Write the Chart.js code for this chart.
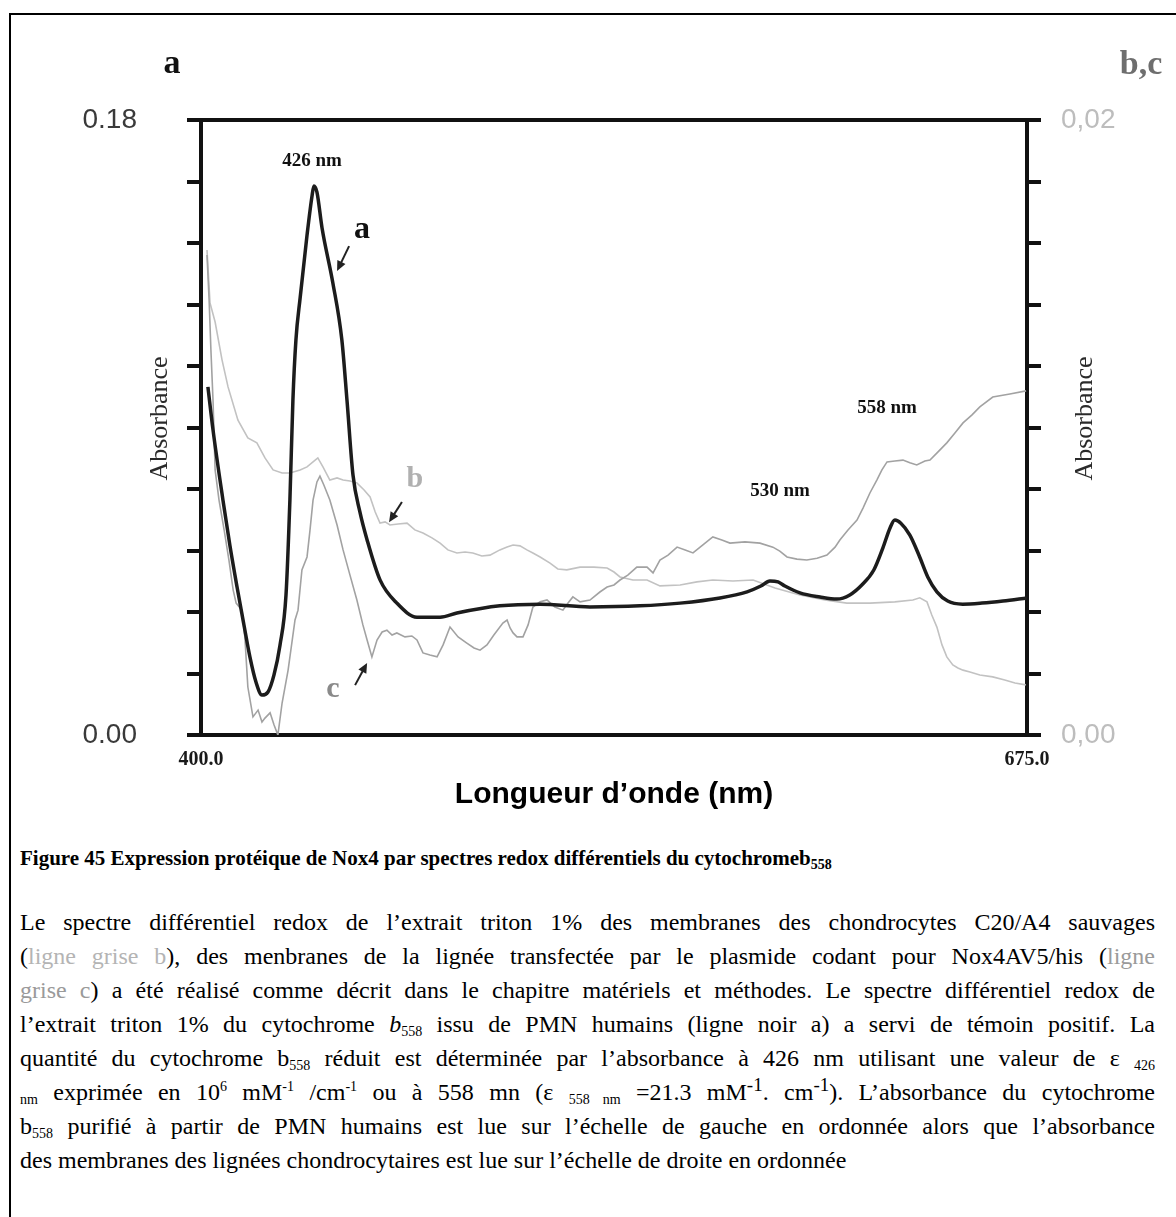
<!DOCTYPE html>
<html><head><meta charset="utf-8">
<script src="https://cdn.jsdelivr.net/npm/chart.js@4.4.1/dist/chart.umd.min.js"></script>
<style>
html,body{margin:0;padding:0;background:#fff;}
body{width:1176px;height:1217px;position:relative;overflow:hidden;font-family:'Liberation Serif','Times New Roman',serif;}
#frame{position:absolute;left:9px;top:13px;width:1300px;height:1400px;border-left:2px solid #000;border-top:2px solid #000;}
#chart{position:absolute;left:0;top:0;}
.cap{position:absolute;left:20px;width:1135px;font-size:24px;line-height:34px;color:#000;white-space:nowrap;}
.j{text-align:justify;text-align-last:justify;white-space:normal;}
.title{font-weight:bold;font-size:21px;line-height:30px;}
sub{font-size:14px;line-height:0;vertical-align:-4px;}
sup{font-size:14px;line-height:0;vertical-align:9px;}
sup.big{font-size:19px;}
.gb{color:#b4b4b4;}
.gc{color:#9a9a9a;}
</style>
</head><body>
<div id="frame"></div>
<canvas id="chart" width="1176" height="840"></canvas>

<div class="cap title" style="top:843px">Figure 45 Expression protéique de Nox4 par spectres redox différentiels du cytochromeb<sub>558</sub></div>
<div class="cap j" style="top:905px">Le spectre différentiel redox de l’extrait triton 1% des membranes des chondrocytes C20/A4 sauvages</div>
<div class="cap j" style="top:939px">(<span class="gb">ligne grise b</span>), des menbranes de la lignée transfectée par le plasmide codant pour Nox4AV5/his (<span class="gc">ligne</span></div>
<div class="cap j" style="top:973px"><span class="gc">grise c</span>) a été réalisé comme décrit dans le chapitre matériels et méthodes. Le spectre différentiel redox de</div>
<div class="cap j" style="top:1007px">l’extrait triton 1% du cytochrome <i>b</i><sub>558</sub> issu de PMN humains (ligne noir a) a servi de témoin positif. La</div>
<div class="cap j" style="top:1041px">quantité du cytochrome b<sub>558</sub> réduit est déterminée par l’absorbance à 426 nm utilisant une valeur de ε <sub>426</sub></div>
<div class="cap j" style="top:1075px"><sub>nm</sub> exprimée en 10<sup>6</sup> mM<sup>-1</sup> /cm<sup>-1</sup> ou à 558 mn (ε <sub>558 nm</sub> =21.3 mM<sup class="big">-1</sup>. cm<sup class="big">-1</sup>). L’absorbance du cytochrome</div>
<div class="cap j" style="top:1109px">b<sub>558</sub> purifié à partir de PMN humains est lue sur l’échelle de gauche en ordonnée alors que l’absorbance</div>
<div class="cap" style="top:1143px">des membranes des lignées chondrocytaires est lue sur l’échelle de droite en ordonnée</div>

<script>
// ---- data ----
const wavelengthsA = [402.3,404.0,407.3,409.6,412.0,414.3,416.3,418.3,420.3,422.3,424.3,426.3,428.3,429.6,430.6,431.6,433.0,435.3,437.0,437.6,438.6,440.3,443.9,446.9,448.6,450.6,452.9,455.3,459.6,465.2,471.9,479.6,485.2,499.5,512.9,529.5,546.1,559.5,572.8,581.8,586.4,589.4,592.1,594.4,599.4,606.1,611.7,616.0,620.0,624.0,627.0,629.4,631.0,633.0,636.0,639.0,642.0,645.0,648.6,653.6,660.0,667.0,675.0];
const absorbanceA = [0.1019,0.0893,0.0688,0.0556,0.0433,0.0322,0.0228,0.0155,0.0117,0.0126,0.0176,0.0263,0.0410,0.0688,0.0980,0.1156,0.1279,0.1463,0.1580,0.1607,0.1589,0.1484,0.1323,0.1156,0.0980,0.0761,0.0653,0.0571,0.0454,0.0386,0.0345,0.0345,0.0357,0.0378,0.0383,0.0375,0.0378,0.0386,0.0401,0.0419,0.0436,0.0451,0.0448,0.0436,0.0416,0.0404,0.0398,0.0410,0.0439,0.0483,0.0547,0.0606,0.0629,0.0620,0.0585,0.0527,0.0462,0.0419,0.0392,0.0383,0.0386,0.0392,0.0401];

const wavelengthsB = [402.0,403.0,404.7,407.0,409.0,412.3,415.6,418.6,421.3,424.0,427.0,429.6,433.0,435.3,437.3,438.9,440.6,442.9,445.3,447.3,449.6,451.9,454.3,456.3,458.0,459.6,461.3,462.9,465.6,468.6,471.2,473.9,476.9,479.6,482.2,485.2,487.9,490.5,493.5,496.2,499.5,501.9,503.9,506.2,508.5,510.5,512.9,516.2,518.8,521.8,526.2,530.8,535.2,537.5,539.5,543.8,548.5,552.8,559.5,565.1,570.4,577.1,583.8,591.1,599.4,607.7,615.0,622.7,631.0,637.0,639.3,641.7,643.3,645.0,646.7,648.3,650.3,652.0,653.7,656.0,659.3,663.6,667.6,671.0,674.6];
const absorbanceB = [0.01577,0.01405,0.01343,0.01220,0.01132,0.01024,0.00966,0.00950,0.00901,0.00862,0.00852,0.00852,0.00862,0.00872,0.00888,0.00901,0.00872,0.00829,0.00836,0.00829,0.00826,0.00820,0.00797,0.00774,0.00725,0.00689,0.00693,0.00683,0.00686,0.00689,0.00667,0.00657,0.00641,0.00624,0.00602,0.00592,0.00595,0.00592,0.00582,0.00585,0.00602,0.00611,0.00618,0.00615,0.00602,0.00592,0.00579,0.00559,0.00540,0.00537,0.00546,0.00546,0.00543,0.00530,0.00514,0.00504,0.00504,0.00485,0.00488,0.00498,0.00504,0.00501,0.00504,0.00478,0.00455,0.00439,0.00429,0.00429,0.00433,0.00439,0.00446,0.00433,0.00390,0.00351,0.00293,0.00254,0.00228,0.00218,0.00211,0.00205,0.00195,0.00189,0.00179,0.00169,0.00163];

const wavelengthsC = [402.0,402.7,403.3,404.0,404.7,406.0,407.7,409.3,410.7,411.7,413.6,414.6,415.6,417.3,419.0,420.3,421.3,423.0,424.3,425.6,427.0,429.0,431.3,432.3,433.6,435.3,436.3,437.3,438.6,439.6,440.9,442.9,445.3,447.3,449.6,451.9,453.9,455.3,456.9,458.6,460.3,461.9,463.6,465.2,467.9,470.2,471.9,473.9,476.2,478.6,480.6,482.9,485.6,488.5,490.9,492.9,495.2,497.5,500.5,501.9,502.9,503.9,505.2,507.2,508.9,510.5,512.9,515.2,517.8,520.5,522.2,523.8,526.2,529.5,532.8,535.2,537.5,539.5,542.1,545.1,548.5,550.5,552.8,555.5,558.5,561.2,563.8,567.1,570.4,573.4,576.1,581.1,586.1,590.4,592.7,595.1,598.4,601.7,605.1,608.4,611.1,612.7,615.4,618.4,620.4,622.7,625.0,626.7,628.4,631.0,633.7,636.0,638.3,641.0,642.7,645.3,648.3,651.0,653.7,656.7,659.3,663.6,669.3,674.7];
const absorbanceC = [0.01561,0.01415,0.01252,0.01089,0.00862,0.00764,0.00667,0.00569,0.00472,0.00429,0.00406,0.00319,0.00156,0.00059,0.00081,0.00042,0.00055,0.00072,0.00033,0.00000,0.00104,0.00211,0.00374,0.00406,0.00537,0.00579,0.00667,0.00764,0.00823,0.00842,0.00813,0.00764,0.00683,0.00602,0.00520,0.00439,0.00358,0.00309,0.00254,0.00309,0.00335,0.00341,0.00325,0.00332,0.00319,0.00322,0.00309,0.00267,0.00260,0.00254,0.00293,0.00351,0.00319,0.00299,0.00283,0.00276,0.00293,0.00325,0.00364,0.00374,0.00348,0.00332,0.00319,0.00319,0.00358,0.00416,0.00433,0.00439,0.00416,0.00406,0.00429,0.00449,0.00433,0.00439,0.00465,0.00481,0.00488,0.00504,0.00520,0.00546,0.00546,0.00527,0.00569,0.00585,0.00611,0.00602,0.00592,0.00618,0.00644,0.00634,0.00624,0.00628,0.00624,0.00611,0.00598,0.00579,0.00572,0.00569,0.00575,0.00585,0.00611,0.00634,0.00667,0.00699,0.00738,0.00787,0.00829,0.00862,0.00888,0.00891,0.00894,0.00885,0.00878,0.00891,0.00894,0.00920,0.00950,0.00982,0.01015,0.01041,0.01067,0.01099,0.01109,0.01119];

const xTickValues = [400, 675];
const xTickLabels = ['400.0', '675.0'];
const leftTickValues = [0, 0.018, 0.036, 0.054, 0.072, 0.09, 0.108, 0.126, 0.144, 0.162, 0.18];
const leftTickLabels = ['0.00', '', '', '', '', '', '', '', '', '', '0.18'];
const rightTickValues = [0, 0.002, 0.004, 0.006, 0.008, 0.01, 0.012, 0.014, 0.016, 0.018, 0.02];
const rightTickLabels = ['0,00', '', '', '', '', '', '', '', '', '', '0,02'];

const toPoints = (xs, ys) => xs.map((x, i) => ({x, y: ys[i]}));

const SERIF = "'Liberation Serif','Times New Roman',serif";
const SANS = "'Liberation Sans',Arial,sans-serif";

const textPlugin = {
  id: 'figText',
  afterDraw(chart, args, opts) {
    const ctx = chart.ctx;
    const ca = chart.chartArea;
    const xs = chart.scales.x, ys = chart.scales.y;
    ctx.save();
    const midY = (ca.top + ca.bottom) / 2 - 9;
    ctx.font = '26px ' + SERIF;
    ctx.fillStyle = '#2a2a2a';
    ctx.textAlign = 'center';
    ctx.textBaseline = 'middle';
    [[ca.left - 41, midY], [ca.right + 58, midY]].forEach(([px, py]) => {
      ctx.save();
      ctx.translate(px, py);
      ctx.rotate(-Math.PI / 2);
      ctx.fillText('Absorbance', 0, 0);
      ctx.restore();
    });
    ctx.font = 'bold 34px ' + SERIF;
    ctx.fillStyle = '#111';
    ctx.fillText('a', ca.left - 29, ca.top - 56);
    ctx.fillStyle = '#6e6e6e';
    ctx.fillText('b,c', ca.right + 114, ca.top - 55);
    opts.labels.forEach(l => {
      ctx.font = l.font;
      ctx.fillStyle = l.color;
      ctx.fillText(l.text, xs.getPixelForValue(l.x), ys.getPixelForValue(l.y));
    });
    opts.arrows.forEach(a => {
      const x1 = xs.getPixelForValue(a.x1), y1 = ys.getPixelForValue(a.y1);
      const x2 = xs.getPixelForValue(a.x2), y2 = ys.getPixelForValue(a.y2);
      const ang = Math.atan2(y2 - y1, x2 - x1);
      ctx.strokeStyle = '#222';
      ctx.fillStyle = '#222';
      ctx.lineWidth = 2;
      ctx.beginPath();
      ctx.moveTo(x1, y1);
      ctx.lineTo(x2 - 6 * Math.cos(ang), y2 - 6 * Math.sin(ang));
      ctx.stroke();
      ctx.beginPath();
      ctx.moveTo(x2, y2);
      ctx.lineTo(x2 - 10 * Math.cos(ang) + 4.5 * Math.sin(ang), y2 - 10 * Math.sin(ang) - 4.5 * Math.cos(ang));
      ctx.lineTo(x2 - 10 * Math.cos(ang) - 4.5 * Math.sin(ang), y2 - 10 * Math.sin(ang) + 4.5 * Math.cos(ang));
      ctx.closePath();
      ctx.fill();
    });
    ctx.restore();
  }
};

const axisLine = {display: true, width: 4, color: '#111'};

new Chart(document.getElementById('chart'), {
  type: 'line',
  data: {
    datasets: [
      {label: 'a', data: toPoints(wavelengthsA, absorbanceA), yAxisID: 'y', borderColor: '#1c1c1c', borderWidth: 3.5, cubicInterpolationMode: 'monotone', pointRadius: 0, order: 0},
      {label: 'b', data: toPoints(wavelengthsB, absorbanceB), yAxisID: 'y1', borderColor: '#c2c2c2', borderWidth: 1.6, tension: 0, pointRadius: 0, order: 2},
      {label: 'c', data: toPoints(wavelengthsC, absorbanceC), yAxisID: 'y1', borderColor: '#a2a2a2', borderWidth: 1.6, tension: 0, pointRadius: 0, order: 1}
    ]
  },
  options: {
    responsive: false,
    animation: false,
    devicePixelRatio: 1,
    layout: {padding: {left: 40, right: 0, top: 0, bottom: 0}},
    plugins: {
      legend: {display: false},
      tooltip: {enabled: false},
      figText: {
        labels: [
          {text: '426 nm', x: 436.96, y: 0.1680, font: 'bold 19px ' + SERIF, color: '#111'},
          {text: 'a', x: 453.6, y: 0.1480, font: 'bold 32px ' + SERIF, color: '#111'},
          {text: 'b', x: 471.2, y: 0.0748, font: 'bold 30px ' + SERIF, color: '#b0b0b0'},
          {text: 'c', x: 443.9, y: 0.0134, font: 'bold 30px ' + SERIF, color: '#8a8a8a'},
          {text: '530 nm', x: 592.8, y: 0.0714, font: 'bold 19px ' + SERIF, color: '#111'},
          {text: '558 nm', x: 628.4, y: 0.0957, font: 'bold 19px ' + SERIF, color: '#111'}
        ],
        arrows: [
          {x1: 449.3, y1: 0.1431, x2: 445.3, y2: 0.1358},
          {x1: 466.9, y1: 0.0682, x2: 462.6, y2: 0.0623},
          {x1: 451.3, y1: 0.0146, x2: 455.3, y2: 0.0211}
        ]
      }
    },
    scales: {
      x: {
        type: 'linear', position: 'bottom', min: 400, max: 675,
        afterFit(s) { s.height = 105; },
        afterBuildTicks(s) { s.ticks = xTickValues.map(v => ({value: v})); },
        grid: {display: false, drawTicks: false},
        border: axisLine,
        ticks: {autoSkip: false, maxRotation: 0, padding: 13, color: '#1a1a1a', font: {family: SERIF, size: 20, weight: 'bold'},
          callback: (v, i) => xTickLabels[i]},
        title: {display: true, text: 'Longueur d’onde (nm)', color: '#000', font: {family: SANS, size: 30, weight: 'bold'}, padding: {top: 0, bottom: 27}}
      },
      x2: {
        type: 'linear', position: 'top', min: 400, max: 675, display: true,
        afterFit(s) { s.height = 120; },
        grid: {display: false, drawTicks: false},
        border: axisLine,
        ticks: {display: false}
      },
      y: {
        type: 'linear', position: 'left', min: 0, max: 0.18,
        afterFit(s) { s.width = 161; },
        afterBuildTicks(s) { s.ticks = leftTickValues.map(v => ({value: v})); },
        grid: {display: true, drawOnChartArea: false, drawTicks: true, tickLength: 14, lineWidth: 4, color: '#111'},
        border: axisLine,
        ticks: {autoSkip: false, padding: 50, color: '#3a3a3a', font: {family: SANS, size: 28},
          callback: (v, i) => leftTickLabels[i]}
      },
      y1: {
        type: 'linear', position: 'right', min: 0, max: 0.02,
        afterFit(s) { s.width = 149; },
        afterBuildTicks(s) { s.ticks = rightTickValues.map(v => ({value: v})); },
        grid: {display: true, drawOnChartArea: false, drawTicks: true, tickLength: 14, lineWidth: 4, color: '#111'},
        border: axisLine,
        ticks: {autoSkip: false, padding: 20, color: '#bdbdbd', font: {family: SANS, size: 28},
          callback: (v, i) => rightTickLabels[i]}
      }
    }
  },
  plugins: [textPlugin]
});
</script>
</body></html>
